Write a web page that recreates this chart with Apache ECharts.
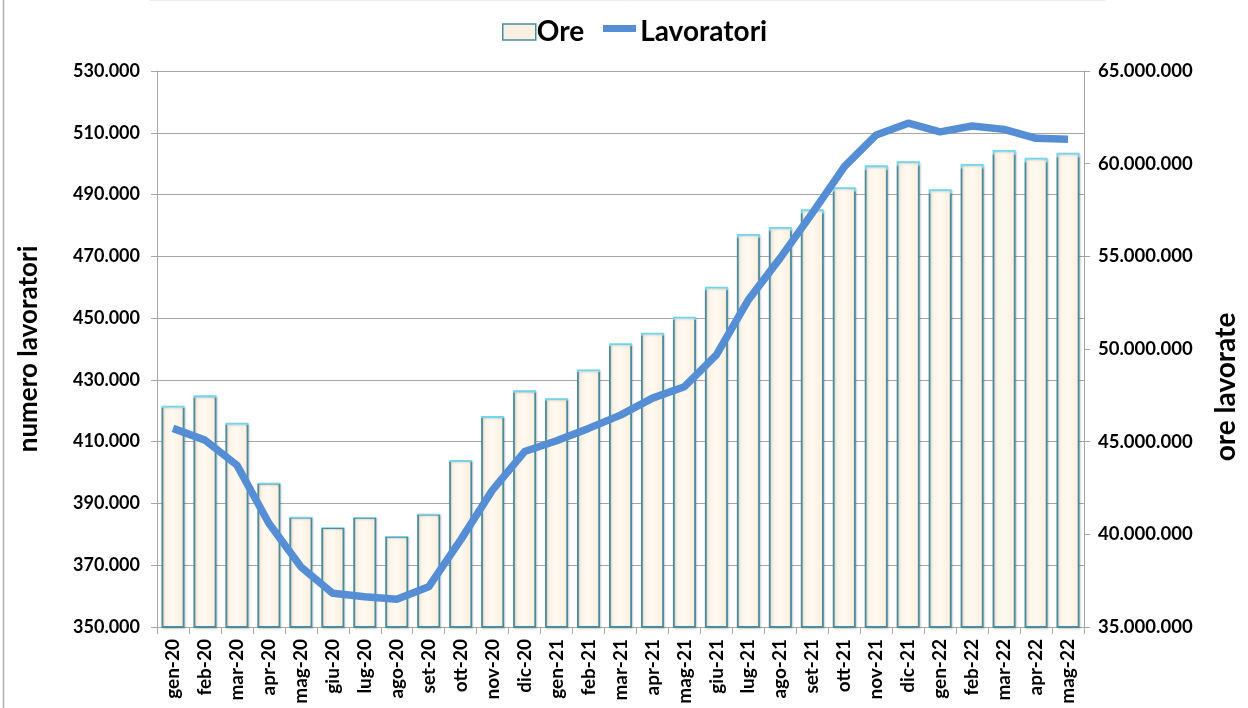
<!DOCTYPE html>
<html>
<head>
<meta charset="utf-8">
<script src="https://cdn.jsdelivr.net/npm/echarts@6/dist/echarts.min.js"></script>
<style>
html,body{margin:0;padding:0;background:#fff;}
#chart{width:1248px;height:708px;}
</style>
</head>
<body>
<div id="chart"></div>
<script>
const categories = ['gen-20','feb-20','mar-20','apr-20','mag-20','giu-20','lug-20','ago-20','set-20','ott-20','nov-20','dic-20',
  'gen-21','feb-21','mar-21','apr-21','mag-21','giu-21','lug-21','ago-21','set-21','ott-21','nov-21','dic-21',
  'gen-22','feb-22','mar-22','apr-22','mag-22'];
const ore = [46940000,47500000,46020000,42790000,40950000,40380000,40940000,39910000,41110000,44010000,46380000,47770000,
  47340000,48890000,50310000,50880000,51740000,53360000,56210000,56580000,57540000,58730000,59910000,60130000,
  58620000,59980000,60740000,60320000,60590000];
const lavoratori = [414300,410500,402400,383600,369500,360900,359800,359000,363000,378200,394400,406800,
  410300,414300,418600,424100,427800,438100,455900,469500,484000,499000,509300,513100,
  510300,512200,511100,508200,507900];
const leftTicks = {min:350000, max:530000, interval:20000};
const rightTicks = {min:35000000, max:65000000, interval:5000000};

function fmt(v){ return String(Math.round(v)).replace(/\B(?=(\d{3})+(?!\d))/g,'.'); }

const chart = echarts.init(document.getElementById('chart'));
const FONT = 'Lato';
const gridColor = '#a6a6a6';
chart.setOption({
  animation:false,
  textStyle:{fontFamily:FONT},
  legend:{
    left:497, top:13, itemGap:22, itemWidth:33, itemHeight:16,
    textStyle:{fontSize:28, fontWeight:'bold', color:'#000', fontFamily:FONT, padding:[0,0,0,-4]},
    data:[
      {name:'Ore', icon:'rect', itemStyle:{color:'#fbf1e4', borderColor:'#4a8c9d', borderWidth:1.5}},
      {name:'Lavoratori', icon:'path://M0,0L33,0L33,16L0,16Z M0,0Z', itemStyle:{color:'rgba(0,0,0,0)'}}
    ]
  },
  grid:{left:157, right:160, top:71, bottom:81},
  xAxis:{
    type:'category', data:categories, boundaryGap:true,
    axisLine:{lineStyle:{color:gridColor, width:1}},
    axisTick:{show:true, length:7, lineStyle:{color:gridColor}},
    axisLabel:{rotate:90, fontSize:19, fontWeight:'bold', color:'#000', margin:12, interval:0, fontFamily:FONT}
  },
  yAxis:[{
    type:'value', position:'left', min:leftTicks.min, max:leftTicks.max, interval:leftTicks.interval,
    name:'numero lavoratori', nameLocation:'middle', nameGap:115, nameRotate:90,
    nameTextStyle:{fontSize:26, fontWeight:'bold', color:'#000', fontFamily:FONT},
    axisLine:{show:true, lineStyle:{color:gridColor}},
    axisTick:{show:true, length:6, lineStyle:{color:gridColor}},
    splitLine:{show:true, lineStyle:{color:gridColor, width:1.2}},
    axisLabel:{formatter:fmt, fontSize:18, fontWeight:'bold', color:'#000', margin:17, fontFamily:FONT}
  },{
    type:'value', position:'right', min:rightTicks.min, max:rightTicks.max, interval:rightTicks.interval,
    name:'ore lavorate', nameLocation:'middle', nameGap:128, nameRotate:90,
    nameTextStyle:{fontSize:28, fontWeight:'bold', color:'#000', fontFamily:FONT, padding:[0,76,0,0]},
    axisLine:{show:true, lineStyle:{color:gridColor}},
    axisTick:{show:true, length:6, lineStyle:{color:gridColor}},
    splitLine:{show:false},
    axisLabel:{formatter:fmt, fontSize:18.5, fontWeight:'bold', color:'#000', margin:14, fontFamily:FONT}
  }],
  series:[{
    name:'Ore', type:'bar', yAxisIndex:1, data:ore, barWidth:'72%',
    itemStyle:{
      color:new echarts.graphic.LinearGradient(0,0,1,0,[
        {offset:0,color:'#f3e2cc'},{offset:0.12,color:'#fdf3e6'},{offset:0.45,color:'#fffaf2'},{offset:1,color:'#fbeedd'}]),
      borderColor:new echarts.graphic.LinearGradient(0,0,0,1,[
        {offset:0,color:'#6fd6ee'},{offset:0.008,color:'#6fd6ee'},{offset:0.012,color:'#4a8c9d'},{offset:1,color:'#4a8c9d'}]),
      borderWidth:1.8,
      shadowColor:'rgba(0,0,0,0.15)', shadowBlur:2, shadowOffsetX:1, shadowOffsetY:1
    },
    z:2
  },{
    name:'Lavoratori', type:'line', yAxisIndex:0, data:lavoratori, symbol:'none', showSymbol:false,
    lineStyle:{color:'#558ed5', width:7.5, join:'round', cap:'butt'},
    itemStyle:{color:'#558ed5'},
    z:5
  }],
  graphic:[
    {type:'line', shape:{x1:3.5,y1:0,x2:3.5,y2:708}, style:{stroke:'#b0b0b0', lineWidth:1.5}, silent:true},
    {type:'line', shape:{x1:150,y1:0.5,x2:1105,y2:0.5}, style:{stroke:'#ececec', lineWidth:1}, silent:true},
    {type:'rect', shape:{x:603, y:25, width:33, height:7}, style:{fill:'#558ed5'}, silent:true, z:100}
  ]
});
</script>
</body>
</html>
